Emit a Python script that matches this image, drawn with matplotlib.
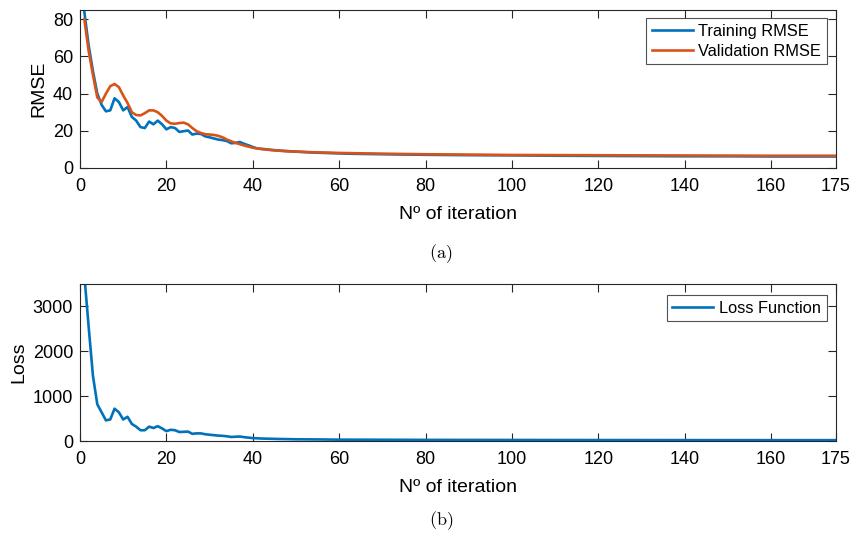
import matplotlib
matplotlib.use("Agg")
import matplotlib.pyplot as plt

# Training / validation RMSE per iteration
train_iter = [1, 2, 3, 4, 5, 6, 7, 8, 9, 10, 11, 12, 13, 14, 15, 16, 17, 18, 19, 20,
              21, 22, 23, 24, 25, 26, 27, 28, 29, 30, 31, 32, 33, 34, 35, 36, 37, 38, 39, 40,
              41, 42, 43, 44, 46, 48, 50, 54, 58, 62, 70, 80, 90, 100, 110, 120, 130, 140,
              150, 160, 175]
train_rmse = [84, 66, 52, 40, 34, 30.5, 31, 37.5, 35.5, 31, 32.8, 27.5, 25.5, 22, 21.5, 25,
              23.5, 25.5, 23.5, 20.8, 22, 21.5, 19.4, 19.8, 20.2, 18, 18.5, 18.3, 17, 16.5,
              15.9, 15.3, 15, 14.5, 13.3, 13.5, 14, 13, 12.2, 11.3, 10.5, 10.3, 10.1, 9.8,
              9.4, 9.1, 8.8, 8.3, 8.0, 7.7, 7.4, 7.1, 6.9, 6.8, 6.6, 6.5, 6.4, 6.3, 6.3, 6.2,
              6.2]

val_iter = [1, 2, 3, 4, 5, 6, 7, 8, 9, 10, 11, 12, 13, 14, 15, 16, 17, 18, 19, 20,
            21, 22, 23, 24, 25, 26, 27, 28, 29, 30, 31, 32, 33, 34, 35, 36, 37, 38, 39, 40,
            42, 44, 46, 48, 50, 55, 60, 70, 80, 90, 100, 115, 130, 145, 160, 175]
val_rmse = [80, 63, 50, 38, 35.5, 40, 44, 45.2, 43.5, 39, 35, 30, 28.5, 28.3, 29.5, 31, 31,
            30, 28, 25.5, 24, 23.8, 24.2, 24.4, 23.5, 21.5, 19.8, 18.8, 18.2, 18, 17.8, 17.3,
            16.5, 15.3, 14.4, 13.5, 12.8, 12.1, 11.5, 10.9, 10.2, 9.7, 9.3, 9.0, 8.8, 8.4,
            8.1, 7.7, 7.4, 7.2, 7.0, 6.9, 6.8, 6.7, 6.6, 6.6]

# Loss function per iteration
loss_iter = [1, 2, 3, 4, 5, 6, 7, 8, 9, 10, 11, 12, 13, 14, 15, 16, 17, 18, 19, 20,
             21, 22, 23, 24, 25, 26, 27, 28, 29, 30, 31, 32, 33, 34, 35, 36, 37, 38, 39, 40,
             42, 44, 46, 48, 50, 55, 60, 70, 80, 100, 120, 140, 160, 175]
loss = [3700, 2550, 1450, 820, 640, 460, 480, 720, 640, 480, 540, 380, 320, 240, 240, 320,
        290, 330, 280, 220, 250, 240, 200, 205, 210, 160, 170, 170, 150, 140, 130, 120, 115,
        105, 90, 95, 100, 85, 75, 65, 55, 50, 45, 42, 38, 35, 30, 28, 25, 23, 21, 20, 19, 19]

x_ticks = [0, 20, 40, 60, 80, 100, 120, 140, 160, 175]

BLUE = "#0072BD"
ORANGE = "#D95319"
AX_COLOR = "#262626"

plt.rcParams["font.family"] = ["Liberation Sans", "DejaVu Sans"]
plt.rcParams["mathtext.fontset"] = "cm"

fig = plt.figure(figsize=(8.53, 5.36), dpi=100)
W, H = 853, 536


def add_axes(left, top, right, bottom):
    return fig.add_axes([left / W, 1 - bottom / H, (right - left) / W, (bottom - top) / H])


def style(ax):
    for s in ax.spines.values():
        s.set_color(AX_COLOR)
        s.set_linewidth(0.8)
    ax.tick_params(direction="in", length=5.5, width=0.8, top=True, right=True,
                   colors=AX_COLOR, labelcolor="black", labelsize=13)
    ax.tick_params(axis="x", pad=7)
    ax.tick_params(axis="y", pad=5)
    ax.set_xlim(0, 175)
    ax.set_xticks(x_ticks)
    ax.set_xlabel("Nº of iteration", fontsize=14, labelpad=8)


def legend(ax, anchor):
    leg = ax.legend(loc="upper right", bbox_to_anchor=anchor, fontsize=11.8,
                    frameon=True, fancybox=False, edgecolor=AX_COLOR, handlelength=2.5,
                    handletextpad=0.35, borderpad=0.35, labelspacing=0.3, borderaxespad=0)
    leg.get_frame().set_linewidth(0.8)
    return leg


ax1 = add_axes(80, 10, 836, 168)
ax1.plot(train_iter, train_rmse, color=BLUE, lw=1.9, label="Training RMSE")
ax1.plot(val_iter, val_rmse, color=ORANGE, lw=1.9, label="Validation RMSE")
ax1.set_ylim(0, 85)
ax1.set_yticks([0, 20, 40, 60, 80])
ax1.set_ylabel("RMSE", fontsize=14, labelpad=4)
style(ax1)
legend(ax1, (0.988, 0.95))

ax2 = add_axes(80, 284, 836, 441)
ax2.plot(loss_iter, loss, color=BLUE, lw=1.9, label="Loss Function")
ax2.set_ylim(0, 3500)
ax2.set_yticks([0, 1000, 2000, 3000])
ax2.set_ylabel("Loss", fontsize=14, labelpad=4)
style(ax2)
legend(ax2, (0.988, 0.93))

fig.text(441 / W, 1 - 254 / H, r"$\mathrm{(a)}$", ha="center", va="center", fontsize=13)
fig.text(441 / W, 1 - 521 / H, r"$\mathrm{(b)}$", ha="center", va="center", fontsize=13)

fig.savefig("out.png", dpi=100)
